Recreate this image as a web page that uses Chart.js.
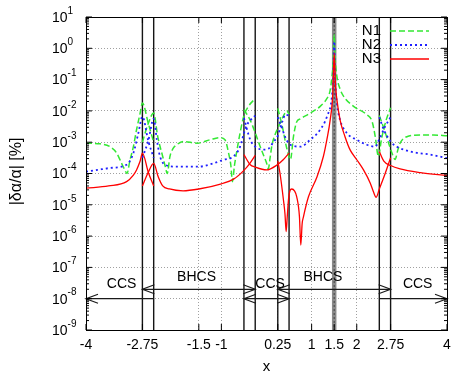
<!DOCTYPE html>
<html>
<head>
<meta charset="utf-8">
<script src="https://cdn.jsdelivr.net/npm/chart.js@4.4.1/dist/chart.umd.min.js"></script>
<style>
  html, body { margin: 0; padding: 0; background: #fff; }
  canvas { display: block; }
</style>
</head>
<body>
<canvas id="chart" width="471" height="374"></canvas>
<script>
// axis ticks
const xTicks = [-4, -2.75, -1.5, -1, 0.25, 1, 1.5, 2, 2.75, 4];
const yExponents = [1, 0, -1, -2, -3, -4, -5, -6, -7, -8, -9];

// region boundaries and the singular point
const boundaries = [-2.75, -2.5, -0.5, -0.25, 0.25, 0.5, 2.5, 2.75];
const singularX = 1.5;

// arrows marking the method regions
const regionNames = ['CCS', 'BHCS', 'CCS', 'BHCS', 'CCS'];
const arrowFrom = [-2.5, -2.75, -0.5, 0.25, 2.5];
const arrowTo = [-4, -0.25, 0.5, 2.75, 4];
const arrowLevel = [1e-8, 2e-8, 1e-8, 2e-8, 1e-8];
const arrowBothEnds = [false, true, true, true, false];
const regionLabelX = [-3.21, -1.55, 0.08, 1.25, 3.35];
const regionLabelY = [3e-8, 5e-8, 3e-8, 5e-8, 3e-8];

// N1 : [x, |da/a| %]
const n1Ccs1 = [[-4, 9.3e-4], [-3.7, 8.9e-4], [-3.47, 7.2e-4], [-3.32, 4.5e-4], [-3.21, 2.1e-4], [-3.15, 1.4e-4], [-3.09, 1.0e-4], [-3.03, 2.5e-4], [-2.95, 7.2e-4], [-2.88, 2.5e-3], [-2.8, 8.5e-3], [-2.75, 1.8e-2], [-2.62, 4.0e-3], [-2.5, 1.0e-3]];
const n1Bhcs1 = [[-2.75, 1.0e-3], [-2.62, 4.0e-3], [-2.5, 8.5e-3], [-2.41, 1.5e-3], [-2.3, 3.5e-4], [-2.24, 1.6e-4], [-2.2, 1.0e-4], [-2.14, 3.5e-4], [-2.07, 6.3e-4], [-1.99, 8.3e-4], [-1.84, 1.05e-3], [-1.54, 9.3e-4], [-1.25, 1.2e-3], [-1.03, 1.4e-3], [-0.92, 1.2e-3], [-0.84, 4.5e-4], [-0.79, 1.8e-4], [-0.755, 5.5e-5], [-0.71, 1.8e-4], [-0.66, 5.0e-4], [-0.585, 2.0e-3], [-0.5, 7.1e-3], [-0.4, 1.4e-2], [-0.25, 2.5e-2]];
const n1Ccs2 = [[-0.5, 1.1e-2], [-0.36, 5.0e-3], [-0.25, 2.0e-3], [-0.15, 7.9e-4], [-0.07, 4.0e-4], [0, 2.2e-4], [0.04, 1.4e-4], [0.08, 3.2e-4], [0.12, 7.9e-4], [0.18, 1.6e-3], [0.25, 2.8e-3], [0.38, 7.1e-3], [0.45, 1.0e-2], [0.5, 7.9e-3]];
const n1Bhcs2 = [[0.25, 1.2e-2], [0.35, 3.2e-3], [0.45, 6.3e-4], [0.53, 2.8e-4], [0.6, 1.6e-3], [0.67, 4.5e-3], [0.75, 5.6e-3], [0.97, 8.5e-3], [1.19, 1.4e-2], [1.34, 2.5e-2], [1.41, 4.5e-2], [1.45, 0.126], [1.48, 0.4], [1.5, 2.7], [1.52, 0.5], [1.56, 0.126], [1.63, 5.0e-2], [1.71, 2.9e-2], [1.93, 1.4e-2], [2.22, 7.6e-3], [2.34, 4.6e-3], [2.41, 1.5e-3], [2.48, 3.5e-4], [2.55, 1.3e-3], [2.65, 5.0e-3], [2.75, 1.26e-2]];
const n1Ccs3 = [[2.5, 7.1e-3], [2.6, 2.8e-3], [2.7, 1.0e-3], [2.78, 4.5e-4], [2.85, 2.8e-4], [2.91, 5.6e-4], [2.96, 9.3e-4], [3.11, 1.5e-3], [3.41, 1.7e-3], [3.7, 1.7e-3], [4, 1.6e-3]];

// N2
const n2Ccs1 = [[-4, 1.15e-4], [-3.75, 1.3e-4], [-3.47, 1.5e-4], [-3.1, 1.9e-4], [-2.95, 4.5e-4], [-2.84, 1.95e-3], [-2.75, 6.6e-3], [-2.62, 1.1e-3], [-2.5, 3.2e-4]];
const n2Bhcs1 = [[-2.75, 3.2e-4], [-2.62, 1.1e-3], [-2.5, 5.6e-3], [-2.43, 1.2e-3], [-2.36, 3.5e-4], [-2.21, 1.8e-4], [-2.0, 1.66e-4], [-1.5, 1.66e-4], [-1.18, 2.1e-4], [-0.955, 2.75e-4], [-0.733, 3.5e-4], [-0.585, 7.2e-4], [-0.5, 1.95e-3], [-0.436, 3.5e-3], [-0.25, 7.1e-3]];
const n2Ccs2 = [[-0.5, 5.9e-3], [-0.36, 1.2e-3], [-0.25, 7.2e-4], [-0.07, 5.8e-4], [0.05, 6.3e-4], [0.15, 1.0e-3], [0.25, 1.6e-3], [0.35, 4.5e-3], [0.42, 7.6e-3], [0.5, 7.1e-3]];
const n2Bhcs2 = [[0.25, 6.3e-3], [0.33, 3.2e-3], [0.42, 1.4e-3], [0.5, 8.9e-4], [0.6, 7.6e-4], [0.75, 7.2e-4], [0.97, 1.2e-3], [1.19, 2.5e-3], [1.34, 6.6e-3], [1.45, 2.9e-2], [1.48, 0.126], [1.5, 1.66], [1.52, 0.126], [1.56, 1.8e-2], [1.63, 5.2e-3], [1.78, 1.95e-3], [2.0, 1.2e-3], [2.22, 8.3e-4], [2.41, 7.2e-4], [2.5, 1.26e-3], [2.63, 3.2e-3], [2.75, 6.3e-3]];
const n2Ccs3 = [[2.5, 6.3e-3], [2.6, 2.5e-3], [2.75, 1.05e-3], [2.89, 7.2e-4], [3.19, 5.0e-4], [3.63, 4.0e-4], [4, 3.1e-4]];

// N3
const n3Ccs1 = [[-4, 3.4e-5], [-3.5, 4.0e-5], [-3.1, 5.5e-5], [-2.95, 8.9e-5], [-2.88, 1.3e-4], [-2.8, 2.5e-4], [-2.75, 4.5e-4], [-2.62, 1.1e-4], [-2.5, 4.0e-5]];
const n3Bhcs1 = [[-2.75, 4.0e-5], [-2.62, 1.1e-4], [-2.5, 2.1e-4], [-2.4, 7.9e-5], [-2.3, 4.0e-5], [-2.15, 3.2e-5], [-1.85, 2.8e-5], [-1.5, 3.2e-5], [-1.0, 4.7e-5], [-0.73, 6.6e-5], [-0.5, 1.26e-4], [-0.36, 2.2e-4], [-0.25, 3.8e-4]];
const n3Ccs2 = [[-0.5, 4.0e-4], [-0.36, 1.9e-4], [-0.25, 1.6e-4], [0, 1.3e-4], [0.24, 1.9e-4], [0.37, 2.75e-4], [0.5, 4.5e-4]];
const n3Bhcs2 = [[0.25, 2.5e-4], [0.3, 1.0e-4], [0.375, 1.45e-5], [0.41, 5.0e-6], [0.435, 1.4e-6], [0.46, 4.2e-6], [0.49, 1.6e-5], [0.52, 2.8e-5], [0.56, 3.2e-5], [0.62, 2.8e-5], [0.67, 1.8e-5], [0.73, 4.2e-6], [0.76, 5.2e-7], [0.79, 2.5e-6], [0.82, 4.2e-6], [0.93, 1.8e-5], [1.12, 7.9e-5], [1.26, 3.5e-4], [1.34, 1.26e-3], [1.41, 5.0e-3], [1.47, 3.7e-2], [1.5, 0.71], [1.53, 6.3e-2], [1.56, 2.3e-2], [1.63, 5.2e-3], [1.74, 1.5e-3], [1.85, 5.8e-4], [2.0, 2.75e-4], [2.15, 1.3e-4], [2.3, 4.9e-5], [2.37, 2.6e-5], [2.43, 1.74e-5], [2.5, 3.2e-5], [2.63, 1.0e-4], [2.75, 3.2e-4]];
const n3Ccs3 = [[2.5, 5.0e-4], [2.6, 2.5e-4], [2.75, 1.8e-4], [2.96, 1.4e-4], [3.41, 1.07e-4], [4, 8.7e-5]];

const FONT = "'Liberation Sans', Arial, Helvetica, sans-serif";

const series = [
  { label: 'N1', segments: [n1Ccs1, n1Bhcs1, n1Ccs2, n1Bhcs2, n1Ccs3], color: '#33e833', width: 1.5, dash: [6, 3], order: 3 },
  { label: 'N2', segments: [n2Ccs1, n2Bhcs1, n2Ccs2, n2Bhcs2, n2Ccs3], color: '#2020ff', width: 1.8, dash: [2, 3], order: 2 },
  { label: 'N3', segments: [n3Ccs1, n3Bhcs1, n3Ccs2, n3Bhcs2, n3Ccs3], color: '#ff0000', width: 1.3, dash: [], order: 1 }
];

const datasets = [];
series.forEach(s => {
  s.segments.forEach(seg => {
    datasets.push({
      label: s.label,
      data: seg.map(([x, y]) => ({ x: x, y: y })),
      borderColor: s.color,
      borderWidth: s.width,
      borderDash: s.dash,
      pointRadius: 0,
      fill: false,
      cubicInterpolationMode: 'monotone',
      order: s.order
    });
  });
});

function line(ctx, x1, y1, x2, y2) {
  ctx.beginPath();
  ctx.moveTo(x1, y1);
  ctx.lineTo(x2, y2);
  ctx.stroke();
}

function arrowHead(ctx, tipX, y, dir) {
  ctx.beginPath();
  ctx.moveTo(tipX - dir * 12, y - 4.5);
  ctx.lineTo(tipX, y);
  ctx.lineTo(tipX - dir * 12, y + 4.5);
  ctx.stroke();
}

const gnuplotLook = {
  id: 'gnuplotLook',
  beforeDatasetsDraw(chart) {
    const { ctx, chartArea: a, scales: { x } } = chart;
    ctx.save();
    // thick grey line at the singular point
    const sx = x.getPixelForValue(singularX);
    ctx.strokeStyle = '#8a8a8a';
    ctx.lineWidth = 4.5;
    line(ctx, sx, a.top, sx, a.bottom);
    ctx.strokeStyle = '#444';
    ctx.lineWidth = 1;
    ctx.setLineDash([2, 2]);
    line(ctx, sx, a.top, sx, a.bottom);
    ctx.setLineDash([]);
    // region boundaries
    ctx.strokeStyle = '#151515';
    ctx.lineWidth = 1.4;
    boundaries.forEach(v => {
      const px = x.getPixelForValue(v);
      line(ctx, px, a.top, px, a.bottom);
    });
    ctx.restore();
  },
  afterDatasetsDraw(chart) {
    const { ctx, chartArea: a, scales: { x, y } } = chart;
    ctx.save();

    // region arrows
    ctx.strokeStyle = '#1a1a1a';
    ctx.lineWidth = 1.2;
    arrowFrom.forEach((from, i) => {
      const x1 = x.getPixelForValue(from);
      const x2 = x.getPixelForValue(arrowTo[i]);
      const py = y.getPixelForValue(arrowLevel[i]);
      line(ctx, x1, py, x2, py);
      const dir = x2 > x1 ? 1 : -1;
      arrowHead(ctx, x2, py, dir);
      if (arrowBothEnds[i]) arrowHead(ctx, x1, py, -dir);
    });
    ctx.fillStyle = '#000';
    ctx.font = '14px ' + FONT;
    ctx.textAlign = 'center';
    ctx.textBaseline = 'middle';
    regionNames.forEach((name, i) => {
      ctx.fillText(name, x.getPixelForValue(regionLabelX[i]), y.getPixelForValue(regionLabelY[i]));
    });

    // frame
    ctx.strokeStyle = '#000';
    ctx.lineWidth = 1;
    ctx.strokeRect(Math.round(a.left) + 0.5, Math.round(a.top) + 0.5,
      Math.round(a.right) - Math.round(a.left), Math.round(a.bottom) - Math.round(a.top));

    // inward tick marks
    xTicks.forEach(v => {
      const px = x.getPixelForValue(v);
      line(ctx, px, a.bottom, px, a.bottom - 6);
      line(ctx, px, a.top, px, a.top + 6);
    });
    yExponents.forEach(e => {
      const py = y.getPixelForValue(Math.pow(10, e));
      line(ctx, a.left, py, a.left + 6, py);
      line(ctx, a.right, py, a.right - 6, py);
      if (e > -9) {
        for (let m = 2; m <= 9; m++) {
          const my = y.getPixelForValue(m * Math.pow(10, e - 1));
          line(ctx, a.left, my, a.left + 3, my);
          line(ctx, a.right, my, a.right - 3, my);
        }
      }
    });

    // y tick labels 10^n
    ctx.textAlign = 'left';
    ctx.textBaseline = 'middle';
    yExponents.forEach(e => {
      const py = y.getPixelForValue(Math.pow(10, e));
      ctx.font = '14px ' + FONT;
      ctx.fillText('10', 52, py + 1);
      const w = ctx.measureText('10').width;
      ctx.font = '10px ' + FONT;
      ctx.fillText(String(e), 52 + w, py - 6);
    });

    // axis titles
    ctx.font = '15px ' + FONT;
    ctx.textAlign = 'center';
    ctx.fillText('x', (a.left + a.right) / 2, 367);
    ctx.save();
    ctx.translate(17, (a.top + a.bottom) / 2 - 2);
    ctx.rotate(-Math.PI / 2);
    ctx.font = '16px ' + FONT;
    ctx.fillText('|δα/α| [%]', 0, 0);
    ctx.restore();

    // legend
    const legendY = [31, 45, 59];
    series.forEach((s, i) => {
      ctx.font = '15px ' + FONT;
      ctx.textAlign = 'right';
      ctx.fillStyle = '#000';
      ctx.fillText(s.label, 381, legendY[i]);
      ctx.strokeStyle = s.color;
      ctx.lineWidth = s.width;
      ctx.setLineDash(s.dash);
      line(ctx, 390, legendY[i], 429, legendY[i]);
      ctx.setLineDash([]);
    });

    ctx.restore();
  }
};

new Chart(document.getElementById('chart').getContext('2d'), {
  type: 'line',
  data: { datasets: datasets },
  options: {
    responsive: false,
    animation: false,
    devicePixelRatio: 1,
    layout: { padding: { top: 17, right: 24, left: 0, bottom: 0 } },
    plugins: {
      legend: { display: false },
      tooltip: { enabled: false }
    },
    scales: {
      x: {
        type: 'linear',
        min: -4,
        max: 4,
        afterBuildTicks: scale => { scale.ticks = xTicks.map(v => ({ value: v })); },
        afterFit: scale => { scale.height = 44; },
        grid: { color: '#a0a0a0', lineWidth: 1, drawTicks: false },
        border: { display: false, dash: [1, 2] },
        ticks: {
          autoSkip: false,
          maxRotation: 0,
          padding: 7,
          color: '#000',
          font: { family: FONT, size: 14 },
          callback: v => String(v)
        }
      },
      y: {
        type: 'logarithmic',
        min: 1e-9,
        max: 10,
        afterBuildTicks: scale => { scale.ticks = yExponents.map(e => ({ value: Math.pow(10, e) })); },
        afterFit: scale => { scale.width = 86; },
        grid: { color: '#a0a0a0', lineWidth: 1, drawTicks: false },
        border: { display: false, dash: [1, 2] },
        ticks: { display: false }
      }
    }
  },
  plugins: [gnuplotLook]
});
</script>
</body>
</html>
